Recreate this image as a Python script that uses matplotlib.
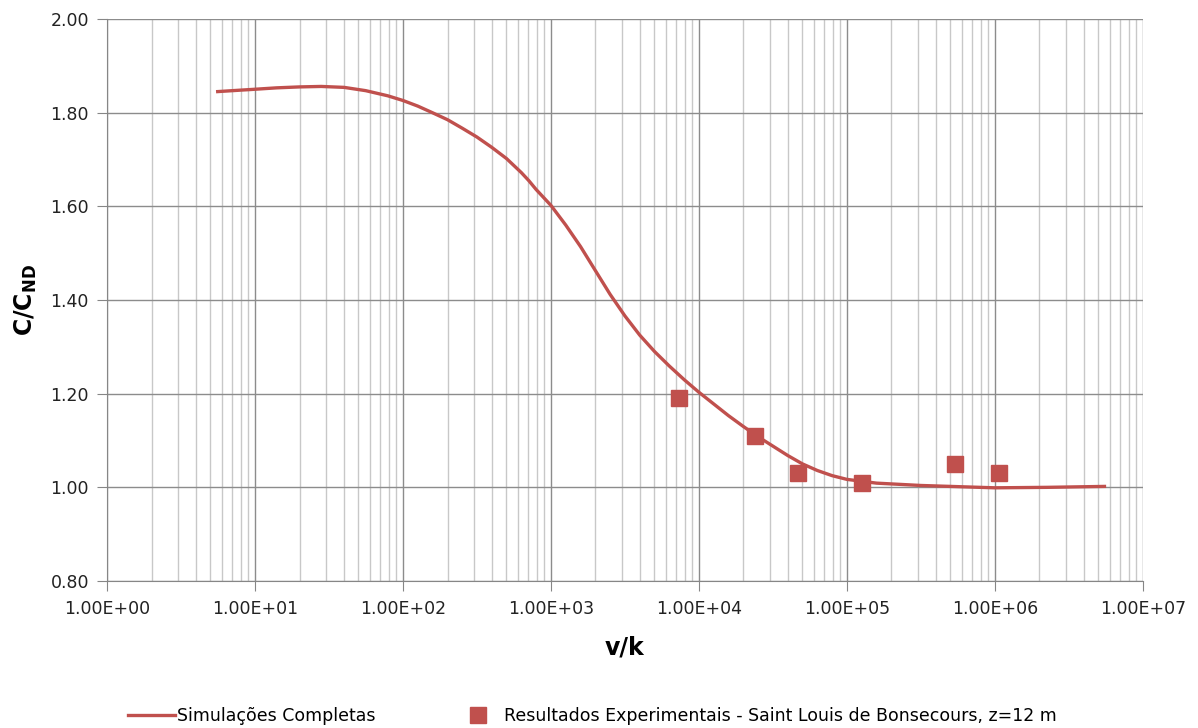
import matplotlib.pyplot as plt
from matplotlib.ticker import LogLocator, FuncFormatter, MultipleLocator, NullFormatter

# Simulated curve
sim_x = [5.6, 7.9, 10, 14, 20, 28, 40, 56, 79, 100, 126, 158, 200, 251, 316, 398, 501,
         631, 708, 794, 1000, 1259, 1585, 1995, 2512, 3162, 3981, 5012, 6310, 7943,
         10000, 12589, 15849, 19953, 25119, 31623, 39811, 50119, 63096, 79433,
         100000, 158489, 316228, 1000000, 2240000, 5500000]
sim_y = [1.845, 1.848, 1.850, 1.853, 1.855, 1.856, 1.854, 1.847, 1.836, 1.826, 1.814,
         1.800, 1.785, 1.767, 1.748, 1.726, 1.702, 1.672, 1.655, 1.636, 1.602, 1.560,
         1.514, 1.463, 1.412, 1.366, 1.325, 1.290, 1.259, 1.230, 1.203, 1.178, 1.153,
         1.130, 1.108, 1.088, 1.068, 1.050, 1.036, 1.025, 1.017, 1.009, 1.004, 0.999,
         1.000, 1.002]

# Experimental results
exp_x = [7350, 24000, 47000, 126000, 540000, 1070000]
exp_y = [1.19, 1.11, 1.03, 1.01, 1.05, 1.03]

x_ticks = [1e0, 1e1, 1e2, 1e3, 1e4, 1e5, 1e6, 1e7]

red = '#c0504d'
fig = plt.figure(figsize=(11.98, 7.28), dpi=100)
ax = fig.add_axes([0.0893, 0.2019, 0.8647, 0.772])

line, = ax.plot(sim_x, sim_y, color=red, lw=2.4, label='Simulações Completas')
pts, = ax.plot(exp_x, exp_y, 's', color=red, ms=11, lw=0,
               label='Resultados Experimentais - Saint Louis de Bonsecours, z=12 m')

ax.set_xscale('log')
ax.set_xlim(1, 1e7)
ax.set_ylim(0.8, 2.0)
ax.set_xticks(x_ticks)
ax.xaxis.set_minor_locator(LogLocator(base=10, subs=range(2, 10), numticks=100))
ax.xaxis.set_minor_formatter(NullFormatter())
ax.xaxis.set_major_formatter(FuncFormatter(lambda v, p: '%.2E' % v))
ax.yaxis.set_major_locator(MultipleLocator(0.2))
ax.yaxis.set_major_formatter(FuncFormatter(lambda v, p: '%.2f' % v))

ax.grid(True, which='major', color='#8c8c8c', lw=1)
ax.grid(True, which='minor', axis='x', color='#c8c8c8', lw=1)
ax.set_axisbelow(True)
for s in ['top', 'right']:
    ax.spines[s].set_visible(False)
for s in ['left', 'bottom']:
    ax.spines[s].set_color('#868686')
ax.tick_params(which='major', length=7, color='#868686', labelsize=12.5, labelcolor='#222222')
ax.tick_params(axis='x', which='minor', length=0)
ax.tick_params(axis='x', pad=7)
ax.tick_params(axis='y', pad=6)

ax.set_xlabel('v/k', fontsize=17, fontweight='bold', labelpad=12)
ax.set_ylabel(r'C/C$_{\mathbf{ND}}$', fontsize=17, fontweight='bold', labelpad=8)

fig.legend(handles=[line, pts], loc='center left', bbox_to_anchor=(128 / 1198, 0.0165), ncol=2,
           frameon=False, fontsize=12.5, handlelength=2.7, handletextpad=0.15,
           columnspacing=4.5, borderpad=0, borderaxespad=0)

fig.savefig('out.png', dpi=100)
